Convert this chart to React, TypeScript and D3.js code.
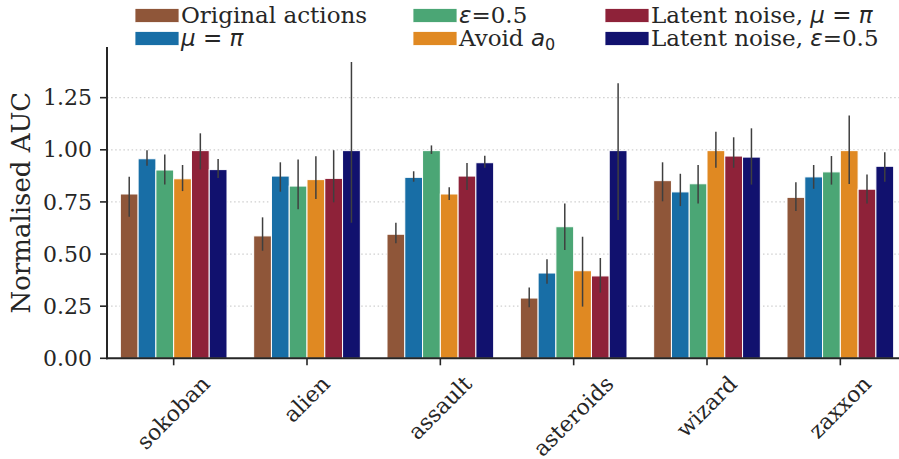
import { useEffect, useRef } from "react"
import * as d3 from "d3"

const games = ["sokoban", "alien", "assault", "asteroids", "wizard", "zaxxon"]
const methods = ["orig", "mu", "eps", "avoid", "latMu", "latEps"]
const colors = ["#8f5639", "#186ea6", "#4ba675", "#e08922", "#8e2239", "#11116e"]

// mean, low, high per game (rows) per method (columns)
const means = [
  [0.788, 0.957, 0.903, 0.861, 0.996, 0.905],
  [0.587, 0.874, 0.826, 0.857, 0.863, 0.996],
  [0.595, 0.868, 0.996, 0.788, 0.874, 0.938],
  [0.289, 0.409, 0.631, 0.420, 0.395, 0.996],
  [0.852, 0.798, 0.837, 0.996, 0.970, 0.965],
  [0.772, 0.870, 0.894, 0.996, 0.811, 0.921],
]
const lows = [
  [0.679, 0.924, 0.834, 0.802, 0.906, 0.865],
  [0.516, 0.799, 0.715, 0.764, 0.748, 0.650],
  [0.552, 0.847, 0.980, 0.759, 0.807, 0.914],
  [0.245, 0.358, 0.519, 0.248, 0.315, 0.663],
  [0.753, 0.730, 0.743, 0.914, 0.914, 0.833],
  [0.706, 0.813, 0.833, 0.836, 0.742, 0.847],
]
const highs = [
  [0.871, 0.998, 0.978, 0.927, 1.079, 0.956],
  [0.676, 0.940, 0.954, 0.969, 0.998, 1.421],
  [0.650, 0.897, 1.021, 0.820, 0.937, 0.972],
  [0.339, 0.475, 0.743, 0.583, 0.481, 1.319],
  [0.940, 0.885, 0.927, 1.087, 1.060, 1.103],
  [0.844, 0.927, 0.970, 1.164, 0.881, 0.988],
]
const yTicks = [0, 0.25, 0.5, 0.75, 1.0, 1.25]

const W = 899, H = 459
const serif = "'DejaVu Serif', serif"
const sans = "'DejaVu Sans', sans-serif"
const ink = "#262626"

export default function App() {
  const ref = useRef<SVGSVGElement>(null)

  useEffect(() => {
    const svg = d3.select(ref.current!)
    svg.selectAll("*").remove()
    const left = 107, right = 907, top = 47, bottom = 358.3

    const x = d3.scaleBand<string>().domain(games).range([left, right]).paddingInner(0.2).paddingOuter(0.1)
    const xi = d3.scaleBand<string>().domain(methods).range([0, x.bandwidth()])
    const y = d3.scaleLinear().domain([0, 1.493]).range([bottom, top])

    // grid
    svg.append("g").selectAll("line").data(yTicks.filter(t => t > 0)).join("line")
      .attr("x1", left).attr("x2", W).attr("y1", d => y(d)).attr("y2", d => y(d))
      .attr("stroke", "#cfcfcf").attr("stroke-width", 1.2).attr("stroke-dasharray", "1.5,2.6")

    // bars
    games.forEach((g, gi) => {
      const grp = svg.append("g")
      methods.forEach((m, mi) => {
        const bx = x(g)! + xi(m)!
        grp.append("rect")
          .attr("x", bx).attr("width", xi.bandwidth())
          .attr("y", y(means[gi][mi])).attr("height", bottom - y(means[gi][mi]))
          .attr("fill", colors[mi]).attr("stroke", "#fff").attr("stroke-width", 1)
      })
      methods.forEach((m, mi) => {
        const cx = x(g)! + xi(m)! + xi.bandwidth() / 2
        grp.append("line")
          .attr("x1", cx).attr("x2", cx)
          .attr("y1", y(lows[gi][mi])).attr("y2", y(highs[gi][mi]))
          .attr("stroke", "#3f3f3f").attr("stroke-width", 1.5)
      })
    })

    // axes
    svg.append("line").attr("x1", left).attr("x2", left).attr("y1", top).attr("y2", bottom + 1)
      .attr("stroke", ink).attr("stroke-width", 2)
    svg.append("line").attr("x1", left - 1).attr("x2", W).attr("y1", bottom).attr("y2", bottom)
      .attr("stroke", ink).attr("stroke-width", 2)

    const yt = svg.append("g").selectAll("g").data(yTicks).join("g")
      .attr("transform", d => `translate(0,${y(d)})`)
    yt.append("line").attr("x1", left - 7).attr("x2", left).attr("stroke", ink).attr("stroke-width", 1.6)
    yt.append("text").attr("x", left - 15).attr("dy", "0.35em").attr("text-anchor", "end")
      .attr("font-family", serif).attr("font-size", 22).attr("fill", ink)
      .text(d => d.toFixed(2))

    const xt = svg.append("g").selectAll("g").data(games).join("g")
      .attr("transform", d => `translate(${x(d)! + x.bandwidth() / 2},0)`)
    xt.append("line").attr("y1", bottom).attr("y2", bottom + 7).attr("stroke", ink).attr("stroke-width", 1.6)
    xt.append("text")
      .attr("font-family", serif).attr("font-size", 22).attr("fill", ink)
      .attr("text-anchor", "middle").attr("dy", "0.32em")
      .text(d => d)
      .each(function () {
        const t = this as SVGTextElement
        const w = t.getComputedTextLength()
        const h = 22 * 1.16
        const cy = bottom + 13 + (w + h) * Math.SQRT1_2 / 2
        d3.select(t).attr("transform", `translate(0,${cy}) rotate(-45)`)
      })

    svg.append("text")
      .attr("transform", `translate(30,${(top + bottom) / 2 + 0}) rotate(-90)`)
      .attr("text-anchor", "middle").attr("font-family", serif).attr("font-size", 26).attr("fill", ink)
      .text("Normalised AUC")

    // legend
    const cols = [135, 413, 605]
    const rows = [8.5, 31.5]
    const order = [[0, 0], [0, 1], [1, 0], [1, 1], [2, 0], [2, 1]]
    order.forEach(([c, r], i) => {
      const lg = svg.append("g").attr("transform", `translate(${cols[c]},${rows[r]})`)
      lg.append("rect").attr("width", 44).attr("height", 14).attr("fill", colors[i])
        .attr("stroke", "#fff").attr("stroke-width", 0.8)
      const t = lg.append("text").attr("x", 46).attr("y", 14)
        .attr("font-family", serif).attr("font-size", 23).attr("fill", ink)
      const mth = (s: string, italic = true) =>
        t.append("tspan").attr("font-family", sans).attr("font-style", italic ? "italic" : "normal").text(s)
      if (i === 0) t.text("Original actions")
      if (i === 1) { mth("μ"); mth(" = ", false); mth("π") }
      if (i === 2) { mth("ε"); t.append("tspan").text("=0.5") }
      if (i === 3) {
        t.append("tspan").text("Avoid ")
        mth("a")
        t.append("tspan").attr("font-family", sans).attr("font-size", 16).attr("dy", 4).text("0")
      }
      if (i === 4) { t.append("tspan").text("Latent noise, "); mth("μ"); mth(" = ", false); mth("π") }
      if (i === 5) { t.append("tspan").text("Latent noise, "); mth("ε"); t.append("tspan").text("=0.5") }
    })
  }, [])

  return (
    <svg ref={ref} width={W} height={H}
      style={{ position: "absolute", left: 0, top: 0, background: "#fff" }} />
  )
}
